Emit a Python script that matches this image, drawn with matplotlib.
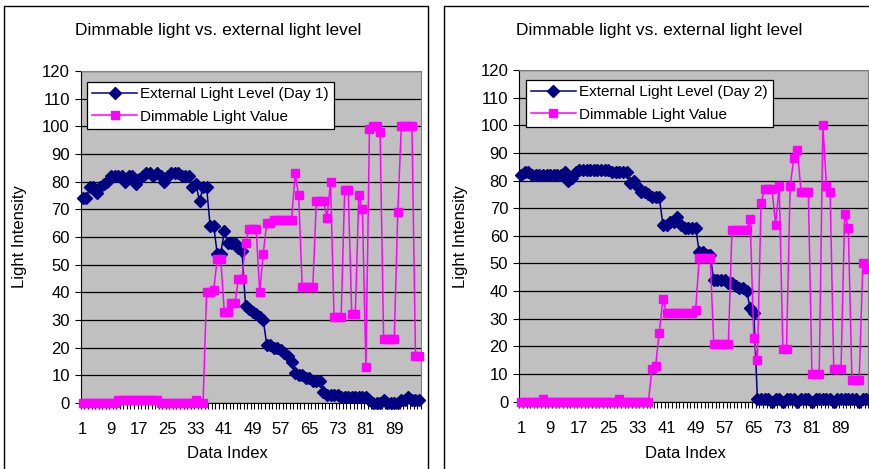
import matplotlib
matplotlib.use("Agg")
import matplotlib.pyplot as plt
from matplotlib.patches import Rectangle
from matplotlib.ticker import FixedLocator

plt.rcParams['font.family'] = ['Liberation Sans', 'DejaVu Sans']

W, H = 870, 469

data_index = list(range(1, 97))
x_tick_labels = [1, 9, 17, 25, 33, 41, 49, 57, 65, 73, 81, 89]
y_ticks = list(range(0, 121, 10))

# day 1
ext_day1 = [74, 74, 78, 78, 76, 78, 79, 80, 82, 82,
            82, 82, 80, 82, 82, 79, 81, 82, 83, 83,
            82, 83, 82, 80, 82, 83, 83, 83, 82, 82,
            82, 78, 79, 73, 78, 78, 64, 64, 54, 54,
            62, 58, 58, 58, 56, 55, 35, 34, 33, 32,
            31, 30, 21, 21, 20, 20, 19, 18, 17, 15,
            11, 10, 10, 9, 9, 8, 8, 8, 4, 3,
            3, 3, 3, 2, 2, 2, 2, 2, 2, 2,
            2, 1, 0, 0, 0, 1, 0, 0, 0, 0,
            1, 1, 2, 1, 1, 1]
dim_day1 = [0, 0, 0, 0, 0, 0, 0, 0, 0, 0,
            1, 1, 1, 1, 1, 1, 1, 1, 1, 1,
            1, 1, 0, 0, 0, 0, 0, 0, 0, 0,
            0, 0, 1, 0, 0, 40, 40, 41, 52, 52,
            33, 33, 36, 36, 45, 45, 58, 63, 63, 63,
            40, 54, 65, 65, 66, 66, 66, 66, 66, 66,
            83, 75, 42, 42, 42, 42, 73, 73, 73, 67,
            80, 31, 31, 31, 77, 77, 32, 32, 75, 70,
            13, 99, 100, 100, 98, 23, 23, 23, 23, 69,
            100, 100, 100, 100, 17, 17]

# day 2
ext_day2 = [82, 83, 83, 82, 82, 82, 82, 82, 82, 82,
            82, 82, 83, 80, 81, 83, 84, 84, 84, 84,
            84, 84, 84, 84, 84, 83, 83, 83, 83, 83,
            79, 80, 78, 76, 76, 75, 74, 74, 74, 64,
            64, 65, 65, 67, 64, 63, 63, 63, 63, 54,
            54, 53, 53, 44, 44, 44, 44, 43, 43, 42,
            41, 41, 40, 34, 32, 1, 1, 1, 1, 0,
            1, 1, 0, 1, 1, 1, 0, 1, 1, 1,
            0, 1, 1, 1, 1, 1, 0, 1, 1, 1,
            1, 1, 1, 0, 1, 1]
dim_day2 = [0, 0, 0, 0, 0, 0, 1, 0, 0, 0,
            0, 0, 0, 0, 0, 0, 0, 0, 0, 0,
            0, 0, 0, 0, 0, 0, 0, 1, 0, 0,
            0, 0, 0, 0, 0, 0, 12, 13, 25, 37,
            32, 32, 32, 32, 32, 32, 32, 32, 33, 52,
            52, 52, 52, 21, 21, 21, 21, 21, 62, 62,
            62, 62, 62, 66, 23, 15, 72, 77, 77, 77,
            64, 78, 19, 19, 78, 88, 91, 76, 76, 76,
            10, 10, 10, 100, 78, 76, 12, 12, 12, 68,
            63, 8, 8, 8, 50, 48]

NAVY = "#000080"
MAGENTA = "#FF00FF"
FS = 12
FS_LEG = 11


def fx(px):
    return px / W


def fy(py):
    return 1 - py / H


def draw_panel(fig, box, ext, dim, day_label, legend_xy):
    left, top, right, bottom = box
    ax = fig.add_axes([fx(left), fy(bottom), fx(right) - fx(left), fy(top) - fy(bottom)])
    ax.set_facecolor("#C0C0C0")

    ax.plot(data_index, ext, color=NAVY, lw=1.1, marker="D", ms=6,
            mec=NAVY, mfc=NAVY, clip_on=False, zorder=3,
            label=f"External Light Level ({day_label})")
    ax.plot(data_index, dim, color=MAGENTA, lw=1.1, marker="s", ms=5.5,
            mec=MAGENTA, mfc=MAGENTA, clip_on=False, zorder=4,
            label="Dimmable Light Value")

    ax.set_xlim(0.5, 96.5)
    ax.set_ylim(0, 120)
    ax.set_yticks(y_ticks)
    ax.set_xticks(x_tick_labels)
    ax.set_xticklabels([str(t) for t in x_tick_labels])
    ax.xaxis.set_minor_locator(FixedLocator([i + 0.5 for i in range(0, 97)]))
    ax.tick_params(axis="x", which="major", length=0, pad=14, labelsize=FS)
    ax.tick_params(axis="x", which="minor", length=4, width=0.8, direction="out")
    ax.tick_params(axis="y", which="major", length=4, width=0.8, direction="out",
                   pad=4, labelsize=FS)

    ax.yaxis.grid(True, color="black", lw=0.9)
    ax.set_axisbelow(True)
    for side in ("top", "right"):
        ax.spines[side].set_color("#808080")
    for side in ("left", "bottom"):
        ax.spines[side].set_color("black")

    leg = ax.legend(loc="upper left", bbox_to_anchor=(fx(legend_xy[0]), fy(legend_xy[1])),
                    bbox_transform=fig.transFigure, fontsize=FS_LEG, frameon=True,
                    fancybox=False, framealpha=1, edgecolor="black",
                    borderpad=0.35, labelspacing=0.55, handlelength=2.9,
                    handletextpad=0.25, borderaxespad=0)
    leg.get_frame().set_linewidth(0.9)
    return ax


fig = plt.figure(figsize=(W / 100, H / 100), dpi=100)

# panel frames
fig.add_artist(Rectangle((fx(4), fy(480)), fx(428) - fx(4), fy(6) - fy(480),
                         transform=fig.transFigure, fill=False, ec="black", lw=1))
fig.add_artist(Rectangle((fx(444), fy(480)), fx(880) - fx(444), fy(6) - fy(480),
                         transform=fig.transFigure, fill=False, ec="black", lw=1))

draw_panel(fig, (80.9, 71, 420.8, 403), ext_day1, dim_day1, "Day 1", (87, 82))
draw_panel(fig, (519.3, 70, 868.3, 401.7), ext_day2, dim_day2, "Day 2", (526, 80))

for cx, ylab_x, xlab_x in [(218, 20, 227), (659, 461, 685)]:
    fig.text(fx(cx), fy(30), "Dimmable light vs. external light level",
             ha="center", va="center", fontsize=12.5)
    fig.text(fx(ylab_x), fy(237), "Light Intensity", rotation=90,
             ha="center", va="center", fontsize=FS)
    fig.text(fx(xlab_x), fy(453), "Data Index", ha="center", va="center", fontsize=FS)

fig.savefig("out.png", dpi=100)
